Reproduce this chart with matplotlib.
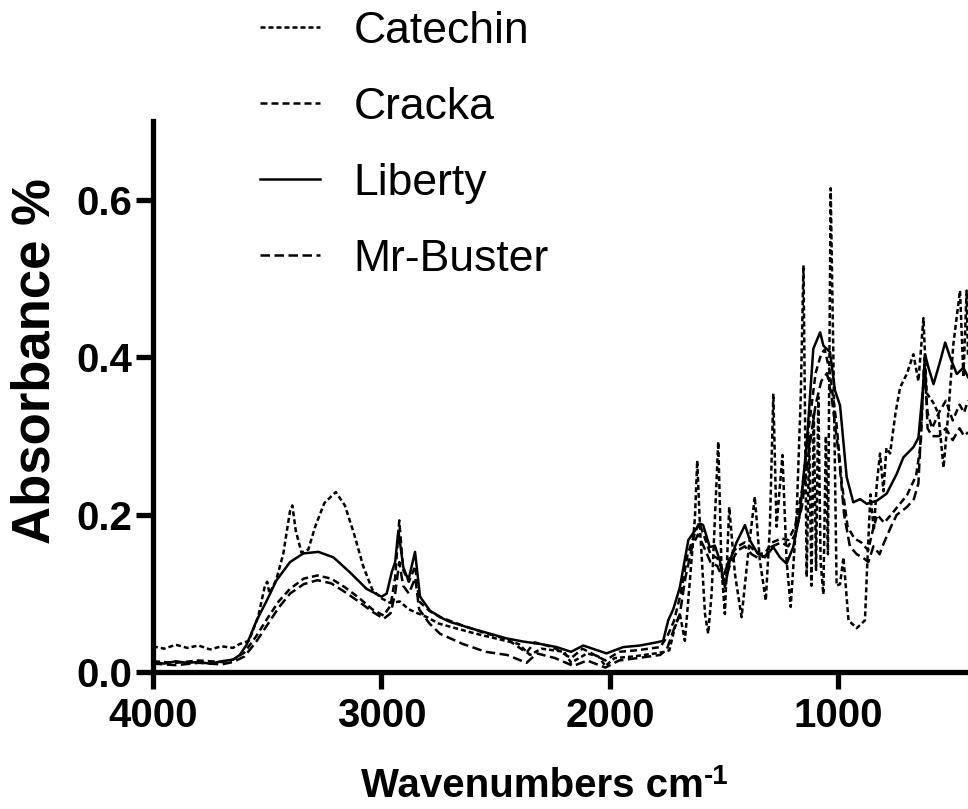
import matplotlib
matplotlib.use("Agg")
import matplotlib.pyplot as plt

plt.rcParams['font.family'] = ['Liberation Sans', 'DejaVu Sans']

# FTIR spectra, wavenumber (cm-1) vs absorbance
catechin_wn = [4000, 3950, 3900, 3850, 3800, 3750, 3700, 3650, 3620, 3580, 3540, 3510, 3500, 3490,
               3460, 3430, 3400, 3390, 3375, 3350, 3320, 3290, 3250, 3200, 3160, 3120, 3080, 3040,
               3000, 2960, 2920, 2880, 2850, 2800, 2750, 2700, 2600, 2500, 2400, 2350, 2300, 2200,
               2170, 2100, 2050, 2020, 1980, 1900, 1800, 1760, 1740, 1716, 1694, 1672, 1650, 1628,
               1618, 1606, 1584, 1570, 1555, 1526, 1512, 1497, 1478, 1453, 1424, 1395, 1366, 1344,
               1318, 1300, 1285, 1271, 1245, 1227, 1209, 1183, 1165, 1153, 1139, 1128, 1118, 1108,
               1098, 1088, 1078, 1066, 1055, 1046, 1034, 1022, 1008, 993, 978, 956, 920, 884, 872,
               860, 845, 832, 818, 803, 790, 774, 750, 730, 701, 672, 650, 628, 614, 584, 563, 540,
               519, 497, 468, 453, 439, 433]
catechin_abs = [0.033, 0.030, 0.035, 0.031, 0.034, 0.029, 0.033, 0.031, 0.036, 0.040, 0.070, 0.110,
                0.115, 0.100, 0.118, 0.150, 0.205, 0.212, 0.180, 0.152, 0.156, 0.185, 0.215, 0.229,
                0.212, 0.176, 0.135, 0.105, 0.094, 0.088, 0.090, 0.080, 0.076, 0.070, 0.062, 0.058,
                0.050, 0.043, 0.036, 0.022, 0.030, 0.026, 0.012, 0.024, 0.020, 0.008, 0.018, 0.020,
                0.024, 0.026, 0.028, 0.057, 0.074, 0.040, 0.117, 0.197, 0.269, 0.185, 0.074, 0.049,
                0.100, 0.293, 0.134, 0.074, 0.210, 0.125, 0.070, 0.151, 0.223, 0.142, 0.091, 0.185,
                0.354, 0.185, 0.276, 0.142, 0.083, 0.200, 0.350, 0.517, 0.121, 0.300, 0.110, 0.330,
                0.130, 0.350, 0.140, 0.099, 0.300, 0.150, 0.615, 0.397, 0.110, 0.112, 0.146, 0.066,
                0.056, 0.066, 0.150, 0.226, 0.180, 0.240, 0.278, 0.230, 0.285, 0.278, 0.330, 0.362,
                0.379, 0.404, 0.370, 0.450, 0.355, 0.342, 0.329, 0.260, 0.330, 0.417, 0.485, 0.375,
                0.485, 0.400]

cracka_wn = [4000, 3900, 3800, 3700, 3650, 3600, 3550, 3500, 3450, 3400, 3340, 3280, 3220, 3160,
             3100, 3040, 2990, 2960, 2940, 2922, 2905, 2880, 2852, 2835, 2790, 2744, 2650, 2550,
             2450, 2365, 2330, 2250, 2170, 2120, 2020, 1960, 1880, 1780, 1750, 1720, 1690, 1660,
             1630, 1610, 1590, 1560, 1530, 1500, 1470, 1440, 1410, 1380, 1350, 1320, 1290, 1250,
             1220, 1190, 1160, 1130, 1100, 1075, 1060, 1040, 1010, 985, 960, 930, 900, 870, 850,
             830, 800, 770, 745, 700, 660, 640, 625, 610, 590, 560, 530, 500, 470, 450, 433]
cracka_abs = [0.014, 0.012, 0.015, 0.013, 0.016, 0.025, 0.045, 0.068, 0.090, 0.106, 0.119, 0.123,
              0.119, 0.108, 0.095, 0.080, 0.072, 0.085, 0.120, 0.193, 0.130, 0.115, 0.135, 0.090,
              0.078, 0.070, 0.060, 0.050, 0.042, 0.025, 0.038, 0.032, 0.018, 0.030, 0.015, 0.026,
              0.028, 0.032, 0.045, 0.065, 0.100, 0.150, 0.175, 0.190, 0.175, 0.150, 0.145, 0.125,
              0.150, 0.160, 0.165, 0.158, 0.150, 0.152, 0.165, 0.170, 0.168, 0.185, 0.230, 0.310,
              0.380, 0.405, 0.410, 0.385, 0.320, 0.240, 0.185, 0.170, 0.165, 0.155, 0.180, 0.200,
              0.190, 0.200, 0.209, 0.225, 0.250, 0.290, 0.390, 0.330, 0.310, 0.330, 0.345, 0.320,
              0.340, 0.330, 0.345]

liberty_wn = [4000, 3950, 3900, 3850, 3800, 3750, 3700, 3650, 3620, 3590, 3546, 3502, 3459, 3400,
              3342, 3276, 3210, 3138, 3065, 3000, 2977, 2955, 2940, 2926, 2904, 2882, 2853, 2831,
              2787, 2729, 2700, 2598, 2452, 2379, 2306, 2233, 2170, 2117, 2015, 1942, 1869, 1796,
              1767, 1745, 1723, 1694, 1657, 1628, 1606, 1592, 1563, 1541, 1519, 1497, 1475, 1446,
              1409, 1388, 1358, 1322, 1285, 1256, 1227, 1198, 1169, 1139, 1110, 1080, 1066, 1037,
              1015, 993, 964, 935, 905, 876, 832, 789, 745, 716, 672, 650, 631, 621, 606, 584, 555,
              533, 511, 482, 453, 433]
liberty_abs = [0.013, 0.011, 0.014, 0.012, 0.013, 0.011, 0.014, 0.016, 0.022, 0.035, 0.066, 0.091,
               0.117, 0.140, 0.151, 0.153, 0.146, 0.127, 0.106, 0.096, 0.100, 0.127, 0.140, 0.180,
               0.133, 0.117, 0.153, 0.096, 0.078, 0.068, 0.064, 0.055, 0.043, 0.039, 0.036, 0.032,
               0.026, 0.034, 0.024, 0.032, 0.034, 0.038, 0.040, 0.066, 0.080, 0.108, 0.168, 0.180,
               0.189, 0.187, 0.159, 0.161, 0.142, 0.108, 0.142, 0.165, 0.187, 0.168, 0.153, 0.146,
               0.159, 0.146, 0.138, 0.159, 0.201, 0.290, 0.411, 0.432, 0.415, 0.407, 0.358, 0.339,
               0.248, 0.216, 0.220, 0.214, 0.218, 0.227, 0.252, 0.273, 0.286, 0.298, 0.358, 0.404,
               0.387, 0.366, 0.395, 0.419, 0.400, 0.379, 0.387, 0.375]

buster_wn = [4000, 3900, 3800, 3700, 3650, 3600, 3550, 3500, 3450, 3400, 3340, 3280, 3220, 3160,
             3100, 3040, 2990, 2960, 2940, 2922, 2905, 2880, 2852, 2835, 2790, 2744, 2644, 2544,
             2450, 2365, 2320, 2240, 2160, 2100, 2020, 1960, 1880, 1780, 1750, 1720, 1694, 1670,
             1640, 1615, 1590, 1560, 1530, 1500, 1470, 1440, 1410, 1380, 1350, 1320, 1290, 1250,
             1220, 1190, 1160, 1130, 1100, 1075, 1050, 1030, 1000, 975, 950, 920, 890, 869, 847,
             820, 803, 770, 745, 700, 670, 650, 635, 622, 610, 590, 560, 530, 500, 470, 450, 433]
buster_abs = [0.011, 0.009, 0.012, 0.010, 0.013, 0.020, 0.038, 0.060, 0.082, 0.100, 0.112, 0.117,
              0.113, 0.102, 0.090, 0.077, 0.068, 0.075, 0.100, 0.140, 0.110, 0.100, 0.120, 0.080,
              0.062, 0.049, 0.036, 0.026, 0.022, 0.012, 0.024, 0.018, 0.008, 0.015, 0.006, 0.015,
              0.018, 0.022, 0.030, 0.055, 0.074, 0.120, 0.160, 0.175, 0.160, 0.140, 0.135, 0.115,
              0.140, 0.155, 0.160, 0.150, 0.145, 0.148, 0.160, 0.165, 0.160, 0.175, 0.210, 0.280,
              0.340, 0.370, 0.380, 0.350, 0.280, 0.200, 0.160, 0.150, 0.145, 0.140, 0.160, 0.150,
              0.163, 0.185, 0.200, 0.210, 0.220, 0.240, 0.330, 0.400, 0.310, 0.300, 0.300, 0.310,
              0.295, 0.310, 0.300, 0.305]

fig = plt.figure(figsize=(9.68, 8.09), dpi=100)
ax = fig.add_axes([0.158, 0.169, 0.842, 0.681])

lw = 1.8
ax.plot(catechin_wn, catechin_abs, color='black', lw=lw, ls=(0, (2.0, 1.2)), label='Catechin')
ax.plot(cracka_wn, cracka_abs, color='black', lw=lw, ls=(0, (2.8, 1.6)), label='Cracka')
ax.plot(liberty_wn, liberty_abs, color='black', lw=lw, ls='-', label='Liberty')
ax.plot(buster_wn, buster_abs, color='black', lw=lw, ls=(0, (3.8, 1.8)), label='Mr-Buster')

ax.set_xlim(4000, 433)
ax.set_ylim(0, 0.7)
ax.set_xticks([4000, 3000, 2000, 1000])
ax.set_yticks([0.0, 0.2, 0.4, 0.6])
ax.set_yticklabels(['0.0', '0.2', '0.4', '0.6'])

for side in ['top', 'right']:
    ax.spines[side].set_visible(False)
for side in ['left', 'bottom']:
    ax.spines[side].set_linewidth(3.8)
ax.tick_params(width=3.8, length=12, labelsize=29)
ax.tick_params(axis='x', pad=6)
ax.tick_params(axis='y', pad=3)
for lab in ax.get_xticklabels() + ax.get_yticklabels():
    lab.set_fontweight('bold')

ax.set_xlabel('Wavenumbers cm', fontsize=29, fontweight='bold')
ax.set_ylabel('Absorbance %', fontsize=38, fontweight='bold')
ax.xaxis.set_label_coords(0.465, -0.172)
ax.yaxis.set_label_coords(-0.114, 0.565)

fig.legend(loc='upper left', bbox_to_anchor=(0.269, 0.987), frameon=False, fontsize=32,
           handlelength=1.35, handletextpad=0.74, labelspacing=0.79, borderpad=0, borderaxespad=0)

# superscript -1 after "cm" (plain hyphen, not a math minus)
fig.canvas.draw()
bb = ax.xaxis.label.get_window_extent().transformed(fig.transFigure.inverted())
fig.text(bb.x1 + 0.001, bb.y1 + 0.004, '-1', fontsize=20, fontweight='bold',
         ha='left', va='top')

fig.savefig('out.png', dpi=100)
